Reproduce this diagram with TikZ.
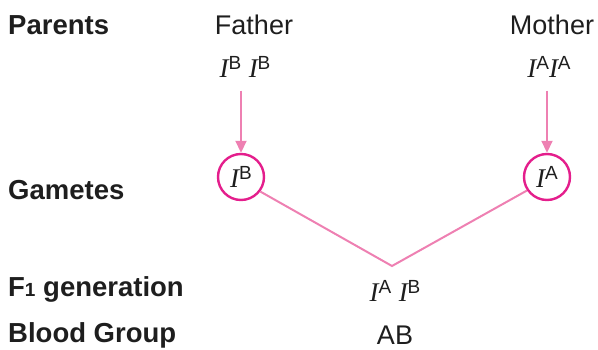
\documentclass[tikz,border=0pt]{standalone}
\usepackage{fontspec}
\setmainfont{Liberation Sans}
\newfontfamily\serif{Liberation Serif}
\usetikzlibrary{arrows.meta,positioning,calc}
\definecolor{rose}{RGB}{238,128,178}
\definecolor{magenta}{RGB}{228,30,140}
\definecolor{ink}{RGB}{30,30,30}
\newcommand{\gene}[1]{{\serif\itshape I}\raisebox{0.55ex}{\fontsize{19}{19}\selectfont #1}}

\begin{document}
\begin{tikzpicture}[x=1pt,y=-1pt,
      font=\fontsize{27}{30}\selectfont,text=ink,
      row/.style={anchor=west,font=\fontsize{27.5}{30}\selectfont\bfseries,inner sep=0pt},
      word/.style={inner sep=0pt},
      geno/.style={inner sep=0pt,font=\fontsize{27}{30}\selectfont},
      gam/.style={circle,draw=magenta,line width=2.4pt,minimum size=46pt,inner sep=0pt,
                  font=\fontsize{27}{30}\selectfont},
      ar/.style={-{Triangle[length=12pt,width=11pt]},line width=1.8pt,color=rose},
      link/.style={line width=2pt,color=rose}]
      \useasboundingbox (0,0) rectangle (598,350);
      \node[row] (parents) at (8,25) {Parents};
      \node[row] (gametes) at (8,190) {Gametes};
      \node[row] (fone) at (8,289) {F{\fontsize{19}{19}\selectfont 1} generation};
      \node[row] (blood) at (8,335) {Blood Group};
      \node[word] (father) at (254,25) {Father};
      \node[word] (mother) at (552,25) {Mother};
      \node[geno] (fgeno) at (245,67) {\gene{B} \gene{B}};
      \node[geno] (mgeno) at (549,67) {\gene{A}\gene{A}};
      \node[gam] (bgam) at (241,177) {\gene{B}};
      \node[gam] (agam) at (547,177) {\gene{A}};
      \coordinate (vee) at (392,266);
      \node[geno] (child) at (395,291) {\gene{A} \gene{B}};
      \node[word] (group) at (395,335) {AB};
      \draw[ar] (fgeno.south -| bgam) ++(0,13) coordinate (fs) (fs) -- (bgam.north);
      \draw[ar] (mgeno.south -| agam) ++(0,13) coordinate (ms) (ms) -- (agam.north);
      \draw[link] (bgam.-37) -- (vee) -- (agam.214);
    \end{tikzpicture}
\end{document}
